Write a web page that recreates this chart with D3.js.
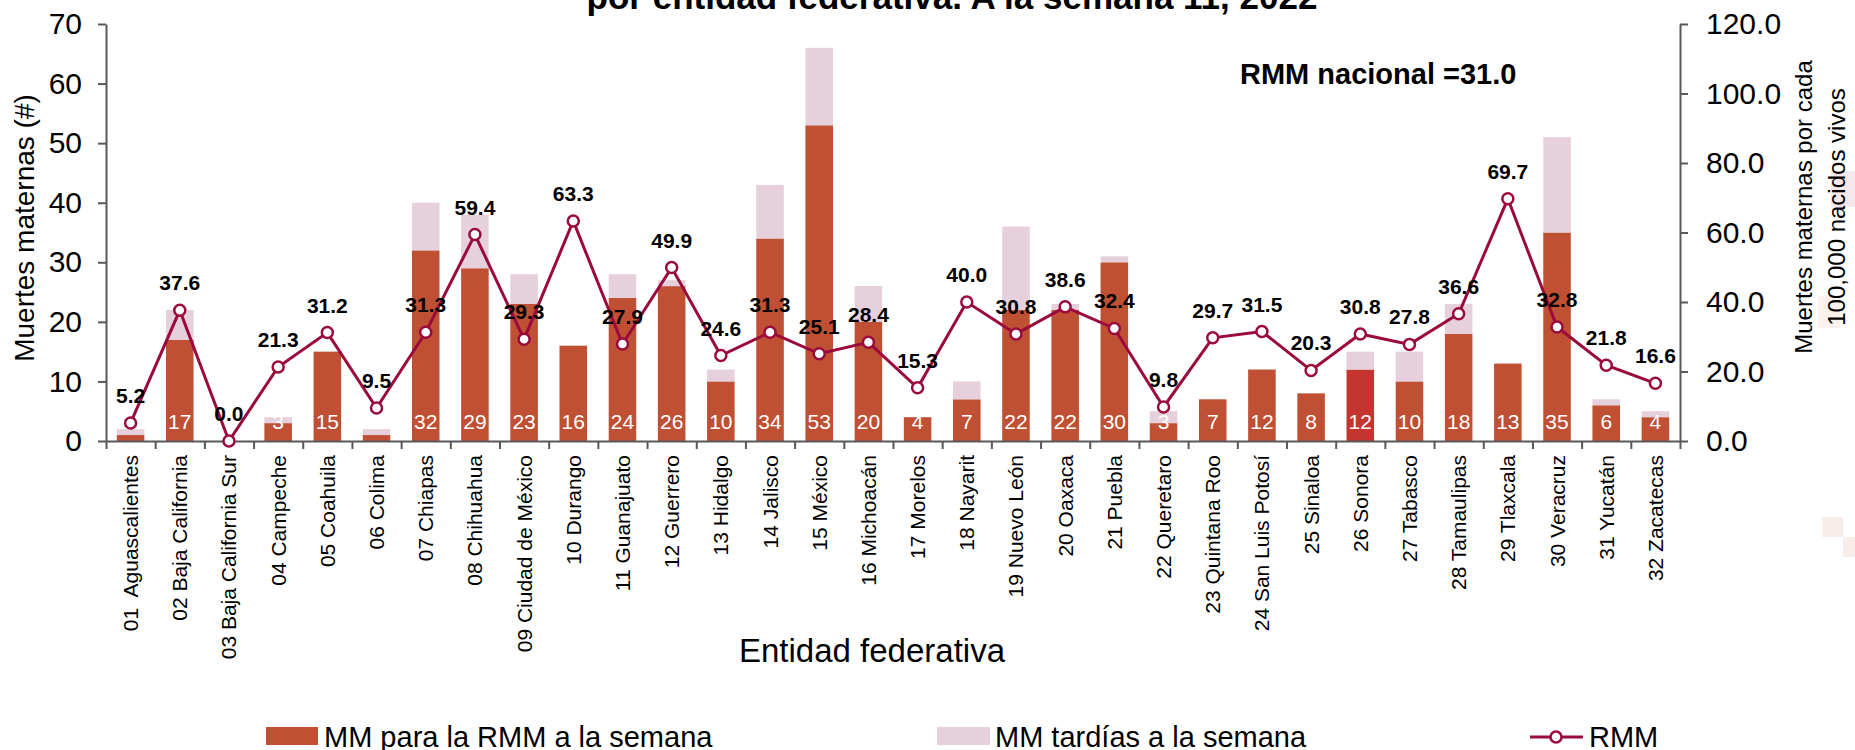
<!DOCTYPE html>
<html>
<head>
<meta charset="utf-8">
<script src="https://cdn.jsdelivr.net/npm/d3@7"></script>
<style>
  body { margin: 0; background: #fff; }
  svg { display: block; font-family: "Liberation Sans", Arial, sans-serif; }
</style>
</head>
<body>
<script>
// Entidades federativas (eje x)
var states = ["01  Aguascalientes", "02 Baja California", "03 Baja California Sur", "04 Campeche",
  "05 Coahuila", "06 Colima", "07 Chiapas", "08 Chihuahua", "09 Ciudad de México", "10 Durango",
  "11 Guanajuato", "12 Guerrero", "13 Hidalgo", "14 Jalisco", "15 México", "16 Michoacán",
  "17 Morelos", "18 Nayarit", "19 Nuevo León", "20 Oaxaca", "21 Puebla", "22 Queretaro",
  "23 Quintana Roo", "24 San Luis Potosí", "25 Sinaloa", "26 Sonora", "27 Tabasco",
  "28 Tamaulipas", "29 Tlaxcala", "30 Veracruz", "31 Yucatán", "32 Zacatecas"];
// MM para la RMM a la semana
var mmRmm = [1, 17, 0, 3, 15, 1, 32, 29, 23, 16, 24, 26, 10, 34, 53, 20, 4, 7, 22, 22, 30, 3,
  7, 12, 8, 12, 10, 18, 13, 35, 6, 4];
// MM tardías a la semana
var mmTardias = [1, 5, 0, 1, 0, 1, 8, 9, 5, 0, 4, 1, 2, 9, 13, 6, 0, 3, 14, 1, 1, 2,
  0, 0, 0, 3, 5, 5, 0, 16, 1, 1];
// RMM (eje derecho)
var rmm = [5.2, 37.6, 0.0, 21.3, 31.2, 9.5, 31.3, 59.4, 29.3, 63.3, 27.9, 49.9, 24.6, 31.3,
  25.1, 28.4, 15.3, 40.0, 30.8, 38.6, 32.4, 9.8, 29.7, 31.5, 20.3, 30.8, 27.8, 36.6, 69.7,
  32.8, 21.8, 16.6];
var leftTicks = [0, 10, 20, 30, 40, 50, 60, 70];
var rightTicks = [0, 20, 40, 60, 80, 100, 120];

var W = 1855, H = 750;
var mLeft = 106, mRight = 1680, mTop = 24, mBottom = 441;
var cDark = "#C05034", cSonora = "#C43530", cLight = "#E6D0DB", cLine = "#9B0A3C", cAxis = "#595959";

var svg = d3.select("body").append("svg")
  .attr("width", W)
  .attr("height", H);

var x = d3.scaleBand().domain(states).range([mLeft, mRight]).paddingInner(0.44).paddingOuter(0.22);
var xi = d3.scaleLinear().domain([0, states.length]).range([mLeft, mRight]);
var yL = d3.scaleLinear().domain([0, 70]).range([mBottom, mTop]);
var yR = d3.scaleLinear().domain([0, 120]).range([mBottom, mTop]);
var cx = function(i) { return x(states[i]) + x.bandwidth() / 2; };

// faint squares at the right edge (artefacts of the original)
var squares = [[1831, 171, 24, 36, "#F4E8EC"], [1818, 296, 22, 32, "#FAF1EC"],
  [1822, 517, 21, 20, "#F8EDE8"], [1843, 537, 12, 20, "#F8EDE8"]];
svg.selectAll("rect.sq").data(squares).enter().append("rect")
  .attr("class", "sq")
  .attr("x", function(d) { return d[0]; }).attr("y", function(d) { return d[1]; })
  .attr("width", function(d) { return d[2]; }).attr("height", function(d) { return d[3]; })
  .attr("fill", function(d) { return d[4]; });

// title (first line falls outside the picture)
svg.append("text")
  .attr("x", 952).attr("y", 9)
  .attr("text-anchor", "middle")
  .attr("font-size", 35).attr("font-weight", "bold")
  .text("por entidad federativa. A la semana 11, 2022");

// bars: dark part then late deaths on top
svg.selectAll("rect.dark").data(mmRmm).enter().append("rect")
  .attr("class", "dark")
  .attr("x", function(d, i) { return x(states[i]); })
  .attr("y", function(d) { return yL(d); })
  .attr("width", x.bandwidth())
  .attr("height", function(d) { return yL(0) - yL(d); })
  .attr("fill", function(d, i) { return i == 25 ? cSonora : cDark; });

svg.selectAll("rect.light").data(mmTardias).enter().append("rect")
  .attr("class", "light")
  .attr("x", function(d, i) { return x(states[i]); })
  .attr("y", function(d, i) { return yL(mmRmm[i] + d); })
  .attr("width", x.bandwidth())
  .attr("height", function(d, i) { return yL(mmRmm[i]) - yL(mmRmm[i] + d); })
  .attr("fill", cLight);

// white counts at the base of the bars
svg.selectAll("text.cnt").data(mmRmm).enter().append("text")
  .attr("class", "cnt")
  .attr("x", function(d, i) { return cx(i); })
  .attr("y", 429)
  .attr("text-anchor", "middle")
  .attr("font-size", 21)
  .attr("fill", "#fff")
  .text(function(d) { return d; });

// axes
var gL = svg.append("g").attr("transform", "translate(" + mLeft + ",0)")
  .call(d3.axisLeft(yL).tickValues(leftTicks).tickSize(8).tickSizeOuter(0).tickPadding(16));
var gR = svg.append("g").attr("transform", "translate(" + mRight + ",0)")
  .call(d3.axisRight(yR).tickValues(rightTicks).tickFormat(d3.format(".1f"))
    .tickSize(8).tickSizeOuter(0).tickPadding(18));
var gB = svg.append("g").attr("transform", "translate(0," + mBottom + ")")
  .call(d3.axisBottom(xi).tickValues(d3.range(states.length + 1)).tickFormat("")
    .tickSize(8).tickSizeOuter(0));
[gL, gR, gB].forEach(function(g) {
  g.select(".domain").attr("stroke", cAxis).attr("stroke-width", 2);
  g.selectAll(".tick line").attr("stroke", cAxis).attr("stroke-width", 2);
  g.selectAll(".tick text").attr("font-size", 30).attr("fill", "#000")
    .attr("font-family", "Liberation Sans, Arial, sans-serif");
});

// state labels
svg.selectAll("text.st").data(states).enter().append("text")
  .attr("class", "st")
  .attr("transform", function(d, i) { return "translate(" + (cx(i) + 7.5) + ",455) rotate(-90)"; })
  .attr("text-anchor", "end")
  .attr("font-size", 21)
  .style("white-space", "pre")
  .text(function(d) { return d; });

// RMM line
var line = d3.line()
  .x(function(d, i) { return cx(i); })
  .y(function(d) { return yR(d); });
svg.append("path")
  .datum(rmm)
  .attr("d", line)
  .attr("fill", "none")
  .attr("stroke", cLine)
  .attr("stroke-width", 3);
svg.selectAll("circle.pt").data(rmm).enter().append("circle")
  .attr("class", "pt")
  .attr("cx", function(d, i) { return cx(i); })
  .attr("cy", function(d) { return yR(d); })
  .attr("r", 5.5)
  .attr("fill", "#fff")
  .attr("stroke", cLine)
  .attr("stroke-width", 2.5);
svg.selectAll("text.rv").data(rmm).enter().append("text")
  .attr("class", "rv")
  .attr("x", function(d, i) { return cx(i); })
  .attr("y", function(d) { return yR(d) - 20; })
  .attr("text-anchor", "middle")
  .attr("font-size", 21).attr("font-weight", "bold")
  .text(function(d) { return d.toFixed(1); });

svg.append("text")
  .attr("x", 1240).attr("y", 84)
  .attr("font-size", 29).attr("font-weight", "bold")
  .text("RMM nacional =31.0");

// axis titles
svg.append("text")
  .attr("transform", "translate(34,228) rotate(-90)")
  .attr("text-anchor", "middle")
  .attr("font-size", 28)
  .text("Muertes maternas (#)");
svg.append("text")
  .attr("transform", "translate(1812,207) rotate(-90)")
  .attr("text-anchor", "middle")
  .attr("font-size", 24)
  .text("Muertes maternas por cada");
svg.append("text")
  .attr("transform", "translate(1845,207) rotate(-90)")
  .attr("text-anchor", "middle")
  .attr("font-size", 24)
  .text("100,000 nacidos vivos");
svg.append("text")
  .attr("x", 872).attr("y", 662)
  .attr("text-anchor", "middle")
  .attr("font-size", 33)
  .text("Entidad federativa");

// legend
var lg = svg.append("g");
lg.append("rect").attr("x", 266).attr("y", 727).attr("width", 52).attr("height", 18).attr("fill", cDark);
lg.append("text").attr("x", 324).attr("y", 747).attr("font-size", 29).text("MM para la RMM a la semana");
lg.append("rect").attr("x", 937).attr("y", 727).attr("width", 53).attr("height", 18).attr("fill", cLight);
lg.append("text").attr("x", 995).attr("y", 747).attr("font-size", 29).text("MM tardías a la semana");
lg.append("line").attr("x1", 1530).attr("x2", 1583).attr("y1", 737).attr("y2", 737)
  .attr("stroke", cLine).attr("stroke-width", 3);
lg.append("circle").attr("cx", 1556).attr("cy", 737).attr("r", 5.5)
  .attr("fill", "#fff").attr("stroke", cLine).attr("stroke-width", 2.5);
lg.append("text").attr("x", 1589).attr("y", 747).attr("font-size", 29).text("RMM");
</script>
</body>
</html>
